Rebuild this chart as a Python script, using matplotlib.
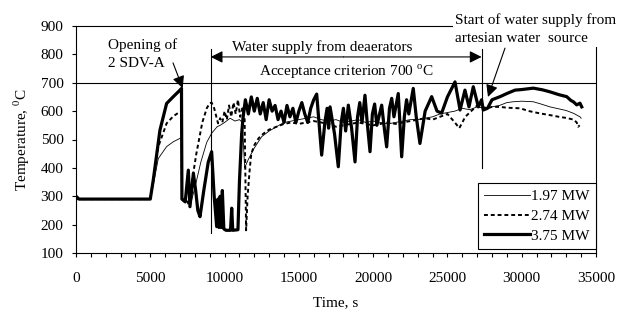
import numpy as np
import matplotlib
matplotlib.use("Agg")
import matplotlib.pyplot as plt
from matplotlib.ticker import MultipleLocator

plt.rcParams['font.family'] = ['Liberation Serif', 'DejaVu Serif']
plt.rcParams['mathtext.fontset'] = 'custom'
plt.rcParams['mathtext.rm'] = 'Liberation Serif'
plt.rcParams['font.size'] = 11

# 3.75 MW (thick)
t_375 = [0, 200, 5000, 5200, 5650, 6100, 6550, 7000, 7100, 7130, 7350, 7560, 7670, 7900, 8050,
         8200, 8346, 8600, 8900, 9130, 9300, 9470, 9550, 9620, 9700, 9780, 9850, 9950, 10100,
         10400, 10480, 10550, 10900, 11000, 11150, 11240, 11400, 11600, 11800, 12000, 12200,
         12400, 12600, 12800, 13000, 13200, 13400, 13600, 13800, 14000, 14200, 14400, 14600,
         14800, 15000, 15200, 15400, 15600, 15800, 16000, 16200, 16535, 16750, 16900, 17000,
         17100, 17400, 17655, 17850, 18000, 18150, 18330, 18550, 18780, 18950, 19100, 19250,
         19450, 19600, 19790, 19950, 20100, 20250, 20575, 20750, 20910, 21100, 21250, 21400,
         21690, 21800, 21920, 22100, 22250, 22400, 22700, 22900, 23150, 23500, 23940, 24300,
         24610, 25000, 25510, 25850, 26180, 26450, 26740, 27080, 27300, 27410, 27700, 28000,
         28540, 29000, 29550, 30000, 30780, 31400, 31900, 32500, 33030, 33300, 33500, 33700,
         33920, 34040]
T_375 = [300, 290, 290, 357, 533, 627, 651, 674, 680, 290, 280, 392, 263, 381, 322,
         250, 228, 320, 420, 457, 300, 193, 290, 190, 300, 190, 320, 185, 180,
         180, 258, 180, 182, 350, 520, 575, 640, 590, 650, 600, 645,
         590, 630, 570, 640, 600, 620, 570, 600, 560, 620, 580, 610,
         560, 600, 630, 590, 560, 610, 640, 660, 445, 560, 610, 540,
         615, 520, 404, 560, 610, 530, 621, 540, 421, 580, 630, 560,
         656, 560, 457, 590, 625, 550, 621, 540, 474, 610, 645, 580,
         662, 560, 439, 580, 640, 590, 680, 580, 486, 600, 651, 600,
         593, 650, 703, 604, 674, 615, 686, 615, 640, 604, 610, 640,
         651, 662, 674, 676, 681, 675, 668, 658, 651, 638, 632, 622,
         628, 615]

# 2.74 MW (dotted)
t_274 = [0, 5000, 5200, 5540, 6100, 6550, 7000, 7100, 7130, 7400, 7600, 7800, 8100, 8500,
         8800, 9000, 9130, 9300, 9560, 9700, 9850, 10000, 10150, 10300, 10450, 10600, 10750,
         10900, 11050, 11200, 11350, 11450, 11550, 11700, 11800, 12000, 12300, 12600, 13000,
         13500, 14000, 14500, 15000, 15500, 16000, 16500, 17000, 17500, 18000, 18500, 19000,
         19500, 20000, 20500, 21000, 21500, 22000, 22500, 23000, 23500, 24000, 24500, 25000,
         25500, 25800, 26200, 26600, 27000, 27300, 27700, 28000, 28540, 29000, 29890, 30500,
         31230, 32000, 32500, 33000, 33500, 33700, 33800, 33900]
T_274 = [290, 290, 355, 475, 557, 582, 598, 600, 290, 290, 270, 350, 450, 560,
         610, 628, 630, 610, 557, 575, 560, 600, 570, 620, 580, 630, 590,
         640, 580, 610, 570, 180, 300, 400, 450, 480, 505, 520, 535,
         545, 555, 560, 555, 560, 565, 560, 555, 545, 550, 555, 560,
         555, 550, 555, 560, 555, 560, 565, 570, 575, 570, 580, 590,
         560, 540, 580, 600, 620, 615, 610, 615, 615, 612, 610, 600,
         592, 585, 580, 576, 570, 560, 545, 550]

# 1.97 MW (thin)
t_197 = [0, 5000, 5200, 5540, 6100, 6550, 7000, 7100, 7130, 7400, 7700, 8000, 8400, 8800,
         9130, 9500, 9700, 10000, 10370, 10700, 11000, 11200, 11350, 11600, 12000, 12500,
         13000, 13500, 14000, 14500, 15000, 15500, 16000, 16500, 17000, 17500, 18000, 18500,
         19000, 19500, 20000, 20500, 21000, 21500, 22000, 22500, 23000, 23500, 24000, 24500,
         25000, 25500, 26000, 26500, 27000, 27300, 27700, 28000, 28500, 29000, 29420, 30000,
         30780, 31300, 31900, 32500, 33000, 33500, 33920, 34000]
T_197 = [290, 290, 340, 433, 475, 492, 504, 508, 290, 285, 270, 330, 420, 490,
         522, 545, 550, 560, 575, 565, 570, 560, 400, 430, 470, 510,
         530, 545, 560, 565, 570, 575, 580, 570, 565, 570, 560, 565,
         570, 560, 565, 560, 555, 560, 565, 570, 570, 575, 580, 590,
         595, 600, 610, 605, 615, 612, 612, 615, 620, 630, 633, 635,
         633, 625, 615, 608, 602, 592, 580, 575]

fig = plt.figure(figsize=(6.37, 3.14), dpi=100)
ax = fig.add_axes([76/637, 61/314, 520/637, 227/314])

ax.plot(t_197, T_197, color='black', lw=0.6, label='1.97 MW', zorder=3)
ax.plot(t_274, T_274, color='black', lw=1.4, ls=(0, (2, 1.5)), label='2.74 MW', zorder=3)
ax.plot(t_375, T_375, color='black', lw=2.3, label='3.75 MW', zorder=4)

ax.axhline(700, color='black', lw=0.8, zorder=2)
ax.plot([9066, 9066], [170, 818], color='black', lw=0.8)
ax.plot([27300, 27300], [400, 818], color='black', lw=0.8)

arrow = dict(arrowstyle='-|>,head_length=0.6,head_width=0.3', color='black',
             lw=0.8, shrinkA=0, shrinkB=0, mutation_scale=12)
ax.annotate('', xy=(9066, 791), xytext=(18000, 791), arrowprops=arrow)
ax.annotate('', xy=(27300, 791), xytext=(18000, 791), arrowprops=arrow)
ax.text(16560, 826, 'Water supply from deaerators', ha='center', va='center')
ax.text(18170, 737, r'Acceptance criterion 700 $^{\rm o}$C', ha='center', va='center')

ax.text(2150, 801, 'Opening of\n2 SDV-A', ha='left', va='center', linespacing=1.5)
ax.annotate('', xy=(7180, 681), xytext=(6530, 770), arrowprops=arrow)

ax.text(25510, 889, 'Start of water supply from\nartesian water  source', ha='left', va='center',
        linespacing=1.5, zorder=6, clip_on=False,
        bbox=dict(facecolor='white', edgecolor='none', pad=1.5))
ax.annotate('', xy=(27730, 650), xytext=(28875, 822), arrowprops=arrow)

ax.set_xlim(0, 35000)
ax.set_ylim(100, 900)
ax.xaxis.set_major_locator(MultipleLocator(5000))
ax.xaxis.set_minor_locator(MultipleLocator(1000))
ax.yaxis.set_major_locator(MultipleLocator(100))
ax.tick_params(axis='x', which='both', direction='out', length=3, width=0.8, pad=11)
ax.tick_params(axis='y', direction='out', length=3, width=0.8, pad=6)
for s in ax.spines.values():
    s.set_linewidth(0.8)

ax.set_xlabel('Time, s', labelpad=8)
ax.set_ylabel(r'Temperature, $^{\rm 0}$C', labelpad=6)

leg = ax.legend(loc='lower right', bbox_to_anchor=(1.0, 0.018), borderaxespad=0,
                fancybox=False, edgecolor='black', framealpha=1,
                handlelength=3.0, handletextpad=0.1, labelspacing=0.4, borderpad=0.4)
leg.get_frame().set_linewidth(0.8)
leg.set_zorder(7)

fig.savefig('out.png', dpi=100)
